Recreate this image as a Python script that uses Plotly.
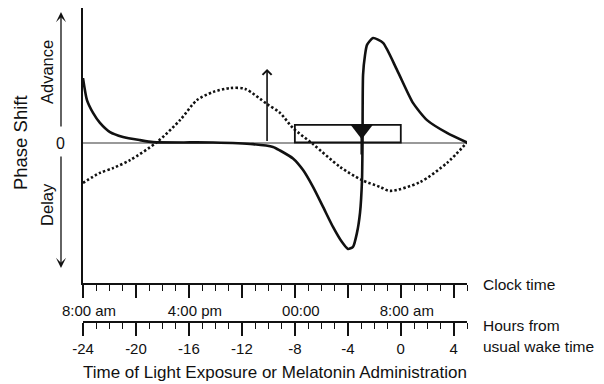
import plotly.graph_objects as go

# ---- data (hours from usual wake time, phase shift in arbitrary units) ----
light_hours = [-24, -23.7, -23.24, -22.72, -21.96, -20.98, -19.7, -18.71, -14.18, -11.16,
               -9.65, -9.12, -8.14, -7.38, -6.63, -5.87, -5.12, -4.44, -3.99, -3.61,
               -3.31, -3.08, -2.93, -2.89, -2.85, -2.70, -2.55, -2.10, -1.34, -0.28,
               0.92, 1.98, 3.49, 5.0]
light_shift = [1.61, 1.06, 0.74, 0.49, 0.26, 0.14, 0.06, 0.01, 0.0, -0.04,
               -0.11, -0.2, -0.4, -0.69, -1.11, -1.61, -2.11, -2.49, -2.66, -2.61,
               -2.26, -1.76, -0.94, 0.0, 1.69, 2.19, 2.44, 2.61, 2.49, 1.81,
               0.99, 0.56, 0.24, 0.0]

mel_hours = [-24, -22.72, -21.73, -20.45, -18.41, -16.67, -15.39, -14.18, -12.9, -11.76,
             -10.1, -9.12, -8.14, -6.63, -4.59, -2.93, -1.57, -0.81, 1.45, 3.49, 5.0]
mel_shift = [-1.01, -0.76, -0.64, -0.44, 0.01, 0.56, 1.06, 1.26, 1.36, 1.34,
             0.96, 0.74, 0.36, -0.04, -0.61, -0.94, -1.11, -1.21, -0.99, -0.51, 0.0]

hour_ticks = [-24, -20, -16, -12, -8, -4, 0, 4]
hour_labels = ["-24", "-20", "-16", "-12", "-8", "-4", "0", "4"]
clock_labels = ["8:00 am", "", "4:00 pm", "", "00:00", "", "8:00 am", ""]

sleep_start, sleep_end, sleep_box_height = -8, 0, 0.44
cbt_min_hour = -2.95
cbt_marker_y = 0.32
cbt_line_bottom = -0.3
light_pulse_hour, light_pulse_shift = -10.1, 1.84

x_range = [-24, 5]
y_range = [-3.5125, 3.3625]

FONT = "Liberation Sans, Arial, Helvetica, sans-serif"
INK = "#111111"

fig = go.Figure()

fig.add_trace(go.Scatter(
    x=mel_hours, y=mel_shift, mode="lines", xaxis="x2", yaxis="y",
    line=dict(color=INK, width=2.6, dash="2.4px,2.2px", shape="spline", smoothing=0.8),
    hoverinfo="skip", showlegend=False))

fig.add_trace(go.Scatter(
    x=light_hours, y=light_shift, mode="lines",
    line=dict(color=INK, width=2.6, shape="spline", smoothing=0.6),
    hoverinfo="skip", showlegend=False))

# sleep box
fig.add_shape(type="rect", xref="x", yref="y", x0=sleep_start, x1=sleep_end,
              y0=0, y1=sleep_box_height, line=dict(color=INK, width=1.8),
              fillcolor="rgba(0,0,0,0)")

# CBT minimum marker
fig.add_trace(go.Scatter(
    x=[cbt_min_hour, cbt_min_hour], y=[sleep_box_height, cbt_line_bottom], mode="lines",
    line=dict(color=INK, width=2.6), hoverinfo="skip", showlegend=False))
fig.add_trace(go.Scatter(
    x=[cbt_min_hour], y=[cbt_marker_y], mode="markers",
    marker=dict(symbol="triangle-down", size=19, color=INK, line=dict(width=0)),
    hoverinfo="skip", showlegend=False))

annotations = []
# light pulse arrow
annotations.append(dict(x=light_pulse_hour, y=light_pulse_shift, xref="x", yref="y",
                        ax=light_pulse_hour, ay=0, axref="x", ayref="y",
                        text="", showarrow=True, arrowhead=4, arrowsize=1.1,
                        arrowwidth=1.6, arrowcolor=INK))

def label(x, y, text, size, angle=0, xanchor="center"):
    return dict(x=x, y=y, xref="paper", yref="paper", text=text, textangle=angle,
                xanchor=xanchor, yanchor="middle", showarrow=False,
                font=dict(size=size, family=FONT, color=INK))

# left side labels and arrows
annotations += [
    label(-0.164, 0.570, "Phase Shift", 18.5, -90),
    label(-0.0938, 0.796, "Advance", 16.5, -90),
    label(-0.0938, 0.376, "Delay", 16.5, -90),
    label(-0.0573, 0.570, "0", 16),
    dict(x=-0.0573, y=0.987, xref="paper", yref="paper", text="", showarrow=True,
         ax=0, ay=116, arrowhead=3, arrowsize=1.3, arrowwidth=1.3, arrowcolor=INK),
    dict(x=-0.0573, y=0.172, xref="paper", yref="paper", text="", showarrow=True,
         ax=0, ay=-113, arrowhead=3, arrowsize=1.3, arrowwidth=1.3, arrowcolor=INK),
]

# right side axis names and bottom title
annotations += [
    label(1.036, 0.118, "Clock time", 15.5, xanchor="left"),
    label(1.036, -0.0127, "Hours from", 15.5, xanchor="left"),
    label(1.036, -0.0796, "usual wake time", 15.5, xanchor="left"),
    label(0.5, -0.162, "Time of Light Exposure or Melatonin Administration", 17),
]

axis_common = dict(range=x_range, showgrid=False, zeroline=False, showline=True,
                   linecolor=INK, linewidth=1.5, ticks="outside", ticklen=13,
                   tickwidth=1.5, tickcolor=INK, tickvals=hour_ticks,
                   tickfont=dict(size=15, family=FONT, color=INK),
                   minor=dict(ticks="outside", ticklen=6, tickwidth=1.2, tickcolor=INK,
                              dtick=1, tick0=-24, showgrid=False))

# The page body has an 8px default margin, so the figure is 8px smaller each way.
fig.update_layout(
    width=596, height=376,
    margin=dict(l=75, r=137, t=0, b=62, pad=0),
    paper_bgcolor="white", plot_bgcolor="white",
    font=dict(family=FONT, color=INK),
    xaxis=dict(anchor="y", ticktext=clock_labels, ticklabelshift=6, **axis_common),
    xaxis2=dict(overlaying="x", anchor="free", position=0, side="bottom",
                ticktext=hour_labels, **axis_common),
    yaxis=dict(domain=[0.1242, 1], range=y_range, showgrid=False, showticklabels=False,
               ticks="", zeroline=True, zerolinecolor="#999999", zerolinewidth=1.5,
               showline=True, linecolor=INK, linewidth=2),
    annotations=annotations,
)

fig.write_html("out.html")
